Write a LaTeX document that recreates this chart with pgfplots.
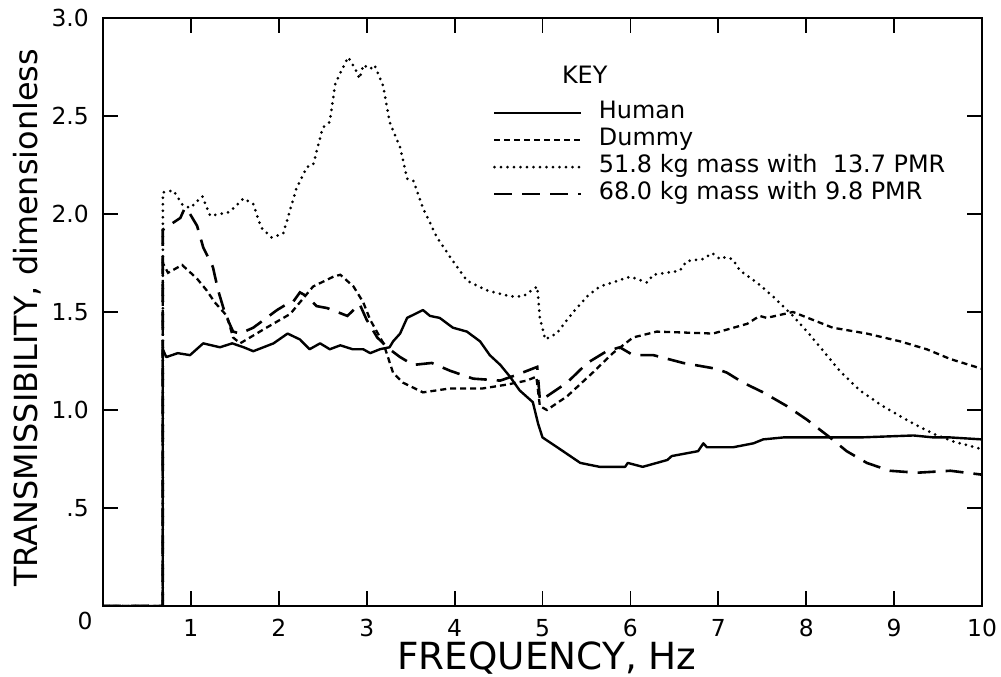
\documentclass[border=0pt]{standalone}
\usepackage{fontspec}
\setmainfont{DejaVu Sans}
\usepackage{pgfplots}
\pgfplotsset{compat=1.18}
\newcommand\tk{\fontsize{23.5}{25}\selectfont}
\begin{document}
\begin{tikzpicture}
\begin{axis}[
  scale only axis, width=879bp, height=588bp,
  xmin=0, xmax=10, ymin=0, ymax=3,
  clip mode=individual,
  axis line style={line width=2bp},
  xtick={1,2,3,4,5,6,7,8,9,10},
  xticklabels={\tk 1,\tk 2,\tk 3,\tk 4,\tk 5,\tk 6,\tk 7,\tk 8,\tk 9,\tk 10},
  ytick={0,0.5,1,1.5,2,2.5,3},
  yticklabels={,\tk .5,\tk 1.0,\tk 1.5,\tk 2.0,\tk 2.5,\tk 3.0},
  major tick length=15bp,
  tick style={line width=1.8bp, black},
  tick align=inside,
  /pgf/number format/assume math mode=true,
  x tick label style={font=\tk, anchor=center, inner sep=0pt, yshift=-22bp},
  y tick label style={font=\tk, anchor=east, inner sep=0pt, xshift=-14bp},
  xlabel={FREQUENCY, Hz},
  ylabel={TRANSMISSIBILITY, dimensionless},
  every axis x label/.style={at={(axis description cs:0.505,-0.088)},anchor=center,font=\fontsize{37.5}{39}\selectfont},
  every axis y label/.style={at={(axis description cs:-0.0865,0.49)},rotate=90,anchor=center,font=\fontsize{32}{34}\selectfont},
  legend image code/.code={\draw[#1] (0bp,0bp) -- (87bp,0bp);},
  legend cell align=left,
  legend style={draw=none, fill=none, at={(rel axis cs:0.44,0.865)}, anchor=north west,
    font=\fontsize{24}{26}\selectfont, row sep=0pt,
    nodes={text height=18bp, text depth=7bp, inner sep=1bp},
    /tikz/every odd column/.append style={column sep=15bp}},
]
\addplot[black, line width=2.4bp, line join=round] coordinates {
(0,0)(0.68,0)(0.68,1.31)(0.72,1.27)(0.85,1.29)(0.99,1.28)(1.14,1.34)(1.33,1.32)(1.47,1.34)(1.6,1.32)(1.71,1.30)(1.94,1.34)(2.1,1.39)(2.24,1.36)(2.35,1.31)(2.47,1.34)(2.58,1.31)(2.7,1.33)(2.84,1.31)(2.96,1.31)(3.04,1.29)(3.15,1.31)(3.26,1.32)(3.3,1.35)(3.38,1.39)(3.46,1.47)(3.64,1.51)(3.72,1.48)(3.83,1.47)(3.98,1.42)(4.14,1.40)(4.29,1.35)(4.4,1.28)(4.52,1.23)(4.63,1.17)(4.74,1.10)(4.89,1.04)(4.95,0.93)(5.0,0.86)(5.2,0.80)(5.43,0.73)(5.65,0.71)(5.94,0.71)(5.97,0.73)(6.14,0.71)(6.42,0.745)(6.47,0.765)(6.77,0.79)(6.83,0.83)(6.87,0.81)(7.17,0.81)(7.40,0.83)(7.51,0.85)(7.74,0.86)(8.12,0.86)(8.61,0.86)(9.22,0.87)(9.45,0.86)(9.64,0.86)(10,0.85)
};
\addlegendentry{Human}
\addplot[black, line width=2.3bp, dash pattern=on 6bp off 4bp] coordinates {
(0,0)(0.68,0)(0.68,1.75)(0.74,1.70)(0.90,1.74)(1.07,1.67)(1.18,1.61)(1.27,1.55)(1.41,1.48)(1.48,1.37)(1.56,1.34)(1.86,1.42)(2.13,1.49)(2.39,1.63)(2.62,1.68)(2.70,1.69)(2.85,1.63)(2.96,1.55)(3.04,1.46)(3.19,1.34)(3.30,1.19)(3.41,1.14)(3.64,1.09)(3.95,1.11)(4.32,1.11)(4.6,1.13)(4.82,1.15)(4.93,1.17)(4.97,1.02)(5.05,1.00)(5.28,1.07)(5.57,1.19)(5.8,1.29)(6.03,1.37)(6.30,1.40)(6.94,1.39)(7.33,1.44)(7.47,1.48)(7.55,1.47)(7.85,1.50)(8.3,1.42)(8.69,1.39)(9.07,1.35)(9.37,1.31)(9.64,1.26)(10,1.21)
};
\addlegendentry{Dummy}
\addplot[black, line width=3bp, line cap=round, dash pattern=on 0bp off 6.5bp] coordinates {
(0,0)(0.68,0)(0.68,2.11)(0.80,2.12)(0.90,2.05)(0.99,2.03)(1.13,2.09)(1.22,1.99)(1.44,2.01)(1.60,2.08)(1.71,2.05)(1.80,1.93)(1.92,1.88)(2.05,1.90)(2.2,2.13)(2.32,2.24)(2.39,2.25)(2.50,2.44)(2.58,2.47)(2.64,2.66)(2.70,2.72)(2.79,2.80)(2.87,2.74)(2.92,2.69)(2.96,2.76)(3.04,2.74)(3.09,2.76)(3.19,2.65)(3.26,2.47)(3.38,2.34)(3.46,2.18)(3.53,2.17)(3.64,2.03)(3.80,1.88)(3.95,1.78)(4.14,1.66)(4.37,1.61)(4.63,1.58)(4.78,1.58)(4.94,1.63)(4.97,1.47)(5.03,1.36)(5.16,1.39)(5.35,1.50)(5.51,1.58)(5.65,1.63)(6.0,1.68)(6.19,1.65)(6.26,1.69)(6.56,1.71)(6.64,1.76)(6.83,1.77)(6.93,1.80)(7.02,1.77)(7.08,1.78)(7.16,1.77)(7.25,1.71)(7.44,1.65)(7.62,1.58)(7.85,1.48)(8.01,1.40)(8.16,1.32)(8.38,1.20)(8.61,1.10)(8.87,1.02)(9.18,0.94)(9.44,0.88)(9.67,0.84)(10,0.80)
};
\addlegendentry{51.8 kg mass with\ \ 13.7 PMR}
\addplot[black, line width=2.6bp, dash pattern=on 18bp off 10bp] coordinates {
(0,0)(0.68,0)(0.68,1.92)(0.88,1.98)(0.93,2.03)(0.99,2.0)(1.07,1.94)(1.14,1.83)(1.25,1.73)(1.31,1.61)(1.39,1.49)(1.48,1.40)(1.56,1.39)(1.71,1.42)(1.86,1.47)(1.98,1.51)(2.09,1.54)(2.16,1.55)(2.24,1.60)(2.32,1.58)(2.43,1.53)(2.55,1.52)(2.78,1.48)(2.92,1.54)(3.0,1.46)(3.12,1.37)(3.26,1.31)(3.38,1.27)(3.53,1.23)(3.74,1.24)(3.95,1.20)(4.21,1.16)(4.52,1.15)(4.71,1.18)(4.94,1.22)(4.97,1.05)(5.05,1.07)(5.28,1.14)(5.51,1.24)(5.73,1.30)(5.88,1.32)(6.03,1.28)(6.26,1.28)(6.6,1.24)(6.98,1.21)(7.10,1.19)(7.28,1.14)(7.51,1.09)(7.78,1.02)(8.01,0.95)(8.27,0.86)(8.46,0.79)(8.69,0.73)(8.95,0.69)(9.26,0.68)(9.64,0.69)(10,0.67)
};
\addlegendentry{68.0 kg mass with 9.8 PMR}
\node[font=\fontsize{24}{26}\selectfont, anchor=center] at (rel axis cs:0.548,0.903) {KEY};
\node[font=\tk, anchor=center] at (rel axis cs:0,0) [xshift=-18bp, yshift=-15bp] {0};
\end{axis}
\pgfresetboundingbox
\path[use as bounding box] ([xshift=-103bp,yshift=-71bp]current axis.south west) rectangle ([xshift=19bp,yshift=18bp]current axis.north east);
\end{tikzpicture}
\end{document}
